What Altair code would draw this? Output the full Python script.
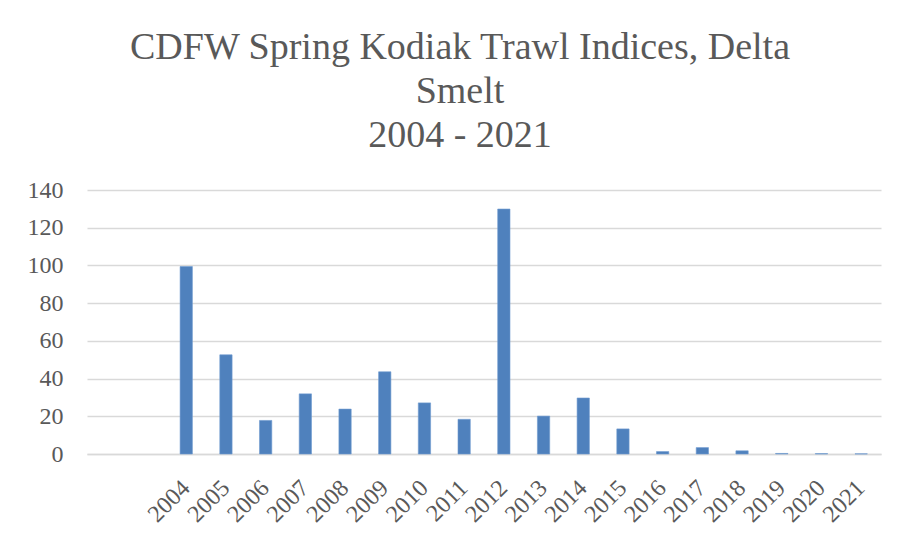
import altair as alt
import pandas as pd

years = [str(y) for y in range(2004, 2022)]
values = [99.4, 52.6, 17.8, 31.9, 23.8, 43.6, 27.1, 18.4, 129.9, 20.1,
          29.7, 13.3, 1.3, 3.4, 1.7, 0.3, 0.2, 0.1]
blank_slots = ["_a", "_b"]
y_ticks = [0, 20, 40, 60, 80, 100, 120, 140]
title_lines = ["CDFW Spring Kodiak Trawl Indices, Delta", "Smelt", "2004 - 2021"]

df = pd.DataFrame({"year": years, "index": values})

FONT = "Liberation Serif"
GRAY = "#595959"

chart = alt.Chart(df).mark_bar(color="#4F81BD", stroke="#6F9AD0", strokeWidth=0.6).encode(
    x=alt.X("year:N",
            scale=alt.Scale(domain=blank_slots + years, paddingInner=0.69, paddingOuter=0.345),
            sort=None,
            axis=alt.Axis(title=None, labelAngle=-45, labelAlign="right", labelBaseline="middle",
                          labelExpr="indexof(datum.label, '_') == 0 ? '' : datum.label",
                          ticks=False, tickSize=0, labelPadding=30,
                          domainColor="#D9D9D9", domainWidth=1.5,
                          labelFont=FONT, labelFontSize=24, labelColor=GRAY)),
    y=alt.Y("index:Q",
            scale=alt.Scale(domain=[0, 140], nice=False),
            axis=alt.Axis(title=None, values=y_ticks, domain=False, ticks=False, tickSize=0,
                          labelPadding=24, gridColor="#D9D9D9", gridWidth=1.5,
                          labelFont=FONT, labelFontSize=24, labelColor=GRAY)),
).properties(
    width=794,
    height=264,
    title=alt.TitleParams(title_lines, font=FONT, fontSize=38, fontWeight="normal",
                          color=GRAY, lineHeight=44, anchor="middle", dx=-24, offset=23),
    padding={"left": 79, "top": 182, "right": 12, "bottom": 82},
    autosize=alt.AutoSizeParams(type="none"),
).configure(background="white", view=alt.ViewConfig(stroke=None))

chart.save("out.html", embed_options={"renderer": "svg", "actions": False})
